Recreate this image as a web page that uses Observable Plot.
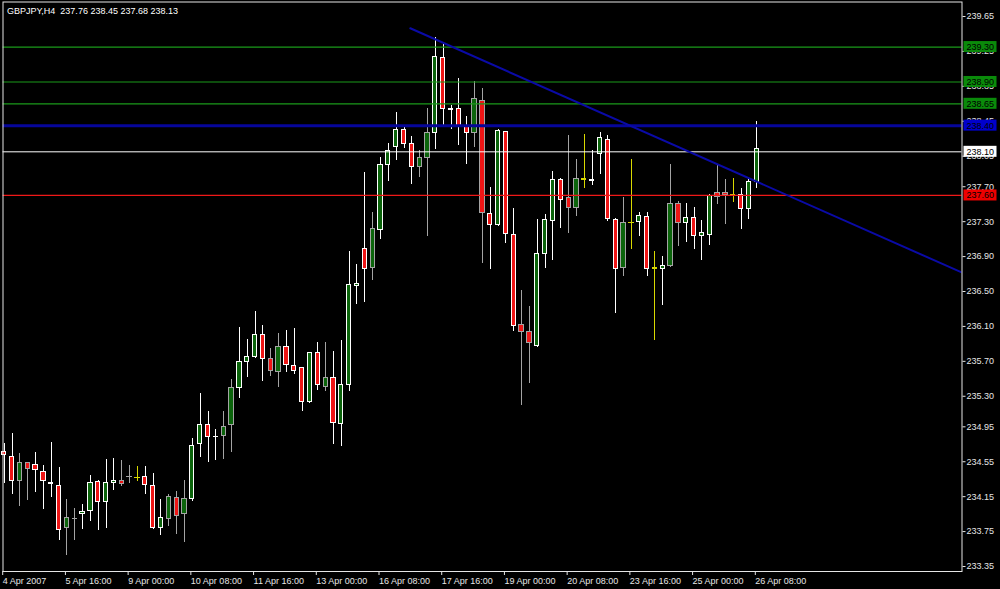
<!DOCTYPE html>
<html>
<head>
<meta charset="utf-8">
<script src="https://cdn.jsdelivr.net/npm/d3@7"></script>
<script src="https://cdn.jsdelivr.net/npm/@observablehq/plot@0.6"></script>
<style>
html, body { margin: 0; padding: 0; background: #000; }
svg text { white-space: pre; }
</style>
</head>
<body>
<div id="chart"></div>
<script>
// ---------- data ----------
const symbol = "GBPJPY,H4";

const opens = [
  234.66,234.61,234.33,234.53,234.51,234.43,234.31,234.27,233.79,233.90,
  233.95,233.99,234.32,234.09,234.31,234.33,234.38,234.37,234.38,234.27,
  233.79,233.89,234.14,233.95,234.12,234.75,234.97,234.84,234.84,234.97,
  235.40,235.69,235.75,236.00,235.73,235.58,235.87,235.65,235.62,235.23,
  235.80,235.41,235.51,234.98,235.43,236.56,236.99,236.77,237.21,237.95,
  238.15,238.35,238.19,237.93,238.03,238.32,239.17,238.59,238.59,238.39,
  238.32,238.68,237.39,237.26,238.33,237.15,236.12,236.04,235.88,236.93,
  237.31,237.78,237.57,237.46,237.79,237.78,238.07,238.24,237.32,236.77,
  237.29,237.30,237.35,236.77,236.76,236.79,237.50,237.29,237.34,237.14,
  237.15,237.63,237.63,237.61,237.61,237.45,237.76
];
const highs = [
  234.76,234.87,234.65,234.54,234.66,234.51,234.77,234.48,234.12,234.02,
  234.06,234.39,234.33,234.57,234.59,234.56,234.51,234.49,234.50,234.41,
  234.12,234.17,234.21,234.33,234.82,235.33,235.13,234.92,235.13,235.49,
  236.09,235.95,236.27,236.11,235.85,236.02,236.05,236.08,235.62,235.80,
  235.92,235.92,235.81,235.94,236.96,236.81,237.86,237.41,238.03,238.19,
  238.55,238.39,238.27,238.11,238.60,239.41,239.34,238.63,238.94,238.50,
  238.90,238.83,237.69,238.36,238.33,237.45,236.51,236.33,237.32,237.38,
  237.87,237.80,238.29,238.01,238.30,238.11,238.32,238.29,237.34,237.58,
  238.01,237.41,237.40,236.96,236.90,237.96,237.53,237.51,237.46,237.31,
  237.61,237.96,237.78,237.80,237.68,237.79,238.45
];
const lows = [
  234.30,234.17,234.04,234.11,234.20,234.00,234.14,233.65,233.48,233.65,
  233.77,233.86,233.76,233.78,234.22,234.27,234.30,234.32,234.17,233.77,
  233.70,233.81,233.72,233.63,234.09,234.60,234.54,234.56,234.57,234.66,
  235.28,235.51,235.73,235.47,235.53,235.40,235.57,235.55,235.12,235.22,
  235.37,235.36,234.75,234.73,235.35,236.35,236.37,236.63,237.09,237.76,
  238.00,238.14,237.73,237.81,237.13,238.13,238.38,238.35,238.17,237.96,
  238.15,236.82,236.75,237.24,237.05,236.04,235.19,235.45,235.86,236.76,
  236.85,237.22,237.17,237.36,237.68,237.71,237.84,237.30,236.25,236.67,
  236.98,237.13,236.67,235.94,236.34,236.78,237.01,237.06,236.98,236.85,
  237.03,237.50,237.27,237.52,237.21,237.32,237.68
];
const closes = [
  234.63,234.33,234.53,234.47,234.45,234.33,234.29,233.77,233.90,233.90,
  233.98,234.31,234.09,234.31,234.33,234.30,234.38,234.37,234.28,233.79,
  233.90,234.15,233.93,234.12,234.73,234.97,234.83,234.84,234.95,235.40,
  235.69,235.75,236.00,235.73,235.59,235.87,235.66,235.59,235.23,235.80,
  235.43,235.51,234.99,235.43,236.58,236.59,236.76,237.22,237.95,238.11,
  238.35,238.19,237.93,238.03,238.32,239.19,238.59,238.59,238.40,238.32,
  238.70,237.40,237.26,238.34,237.16,236.11,236.04,235.91,236.93,237.32,
  237.78,237.55,237.46,237.79,237.79,237.78,238.26,237.33,236.76,237.29,
  237.29,237.37,236.76,236.77,236.79,237.50,237.29,237.34,237.14,237.17,
  237.59,237.58,237.61,237.61,237.45,237.76,238.13
];
// wick shade category of each bar: w = plain, g = grey, y = yellow
const tones = [
  "w","w","g","g","w","w","w","w","g","g",
  "w","w","w","w","w","g","g","y","w","w",
  "w","g","g","g","w","w","w","w","g","g",
  "w","w","w","w","g","g","w","w","w","w",
  "w","g","w","w","w","w","w","g","w","w",
  "w","w","w","g","g","w","w","w","w","w",
  "g","g","w","w","w","w","g","g","w","w",
  "w","w","g","g","y","w","w","w","w","g",
  "y","w","w","y","w","g","g","w","w","w",
  "w","g","g","y","w","w","w"
];

const tickBars = [0, 8, 16, 24, 32, 40, 48, 56, 64, 72, 80, 88, 96];
const tickLabels = [
  "4 Apr 2007", "5 Apr 16:00", "9 Apr 00:00", "10 Apr 08:00", "11 Apr 16:00",
  "13 Apr 00:00", "16 Apr 08:00", "17 Apr 16:00", "19 Apr 00:00", "20 Apr 08:00",
  "23 Apr 16:00", "25 Apr 00:00", "26 Apr 08:00"
];
const priceTicks = [
  239.65, 239.25, 238.85, 238.45, 238.05, 237.70, 237.30, 236.90, 236.50,
  236.10, 235.70, 235.30, 234.95, 234.55, 234.15, 233.75, 233.35
];

const levelValues = [239.30, 238.90, 238.65, 238.40, 238.10, 237.60];
const levelKinds = ["target", "target", "target", "pivot", "bid", "stop"];

const trendBars = [51.8, 122.2];
const trendPrices = [239.515, 236.716];

// ---------- styles ----------
const toneColor = { w: "#ffffff", g: "#a4a4a4", y: "#d8d800" };
const bullFill = "#0b640b";
const bearFill = "#ee1515";
const levelStyle = {
  target: { stroke: "#1a9a1a", width: 1.2, box: "#0a8a0a" },
  pivot:  { stroke: "#06069a", width: 3, box: "#0000cc" },
  bid:    { stroke: "#ffffff", width: 1, box: "#ffffff" },
  stop:   { stroke: "#f01818", width: 1.2, box: "#ee0000" }
};

// ---------- build tables ----------
const candles = opens.map((o, i) => ({
  i, open: o, high: highs[i], low: lows[i], close: closes[i], tone: tones[i]
}));
const bodies = candles.filter(d => d.open !== d.close);
const dojis = candles.filter(d => d.open === d.close);
const levels = levelValues.map((v, k) => ({ value: v, kind: levelKinds[k] }));
const trend = trendBars.map((b, k) => ({ bar: b, price: trendPrices[k] }));
const last = candles[candles.length - 1];
const title = `${symbol}  ${last.open.toFixed(2)} ${last.high.toFixed(2)} ${last.low.toFixed(2)} ${last.close.toFixed(2)}`;

function labelBoxes(index, scales, values, dims, context, next) {
  const textG = next(index, scales, values, dims, context);
  const ns = "http://www.w3.org/2000/svg";
  const wrap = document.createElementNS(ns, "g");
  const x0 = dims.width - dims.marginRight + 2;
  for (const i of index) {
    const r = document.createElementNS(ns, "rect");
    r.setAttribute("x", x0);
    r.setAttribute("y", values.y[i] - 5.5);
    r.setAttribute("width", 33);
    r.setAttribute("height", 11);
    r.setAttribute("fill", levelStyle[levels[i].kind].box);
    wrap.appendChild(r);
  }
  wrap.appendChild(textG);
  return wrap;
}

const chart = Plot.plot({
  width: 1000,
  height: 589,
  marginLeft: 2.5,
  marginRight: 38.5,
  marginTop: 1.5,
  marginBottom: 18,
  style: {
    background: "#000",
    color: "#e6e6e6",
    fontFamily: "'Liberation Sans', Arial, sans-serif",
    fontSize: "9px"
  },
  x: { type: "linear", domain: [0, 96], range: [3.7, 756.3], axis: null, label: null },
  y: { type: "linear", domain: [233.35, 239.65], range: [566, 16], axis: null, label: null },
  color: { type: "identity" },
  marks: [
    Plot.ruleX(candles, {
      x: "i", y1: "low", y2: "high",
      stroke: d => toneColor[d.tone], strokeWidth: 1, shapeRendering: "crispEdges"
    }),
    Plot.rect(bodies, {
      x1: d => d.i - 0.27, x2: d => d.i + 0.27, y1: "open", y2: "close",
      fill: d => (d.close > d.open ? bullFill : bearFill),
      stroke: d => toneColor[d.tone], strokeWidth: 1, shapeRendering: "crispEdges"
    }),
    Plot.ruleY(dojis, {
      y: "open", x1: d => d.i - 0.34, x2: d => d.i + 0.34,
      stroke: d => toneColor[d.tone], strokeWidth: 1.5, shapeRendering: "crispEdges"
    }),
    Plot.ruleY(levels, {
      y: "value",
      stroke: d => levelStyle[d.kind].stroke,
      strokeWidth: d => levelStyle[d.kind].width
    }),
    Plot.line(trend, { x: "bar", y: "price", stroke: "#0a0aa6", strokeWidth: 2, clip: true }),
    Plot.frame({ stroke: "#e6e6e6" }),
    Plot.axisY(priceTicks, {
      anchor: "right", tickSize: 3, tickPadding: 1.5, label: null,
      tickFormat: d => d.toFixed(2)
    }),
    Plot.text(levels, {
      y: "value", frameAnchor: "right", dx: 4.5, textAnchor: "start",
      text: d => d.value.toFixed(2), fill: "#000", render: labelBoxes
    }),
    Plot.axisX(tickBars, {
      anchor: "bottom", tickSize: 4, tickPadding: 2, label: null,
      textAnchor: "start", dx: -1.5,
      tickFormat: d => tickLabels[tickBars.indexOf(d)]
    }),
    Plot.text([title], {
      frameAnchor: "top-left", dx: 4, dy: 9, lineAnchor: "middle",
      textAnchor: "start", fill: "#ffffff"
    })
  ]
});

document.getElementById("chart").appendChild(chart);
</script>
</body>
</html>
